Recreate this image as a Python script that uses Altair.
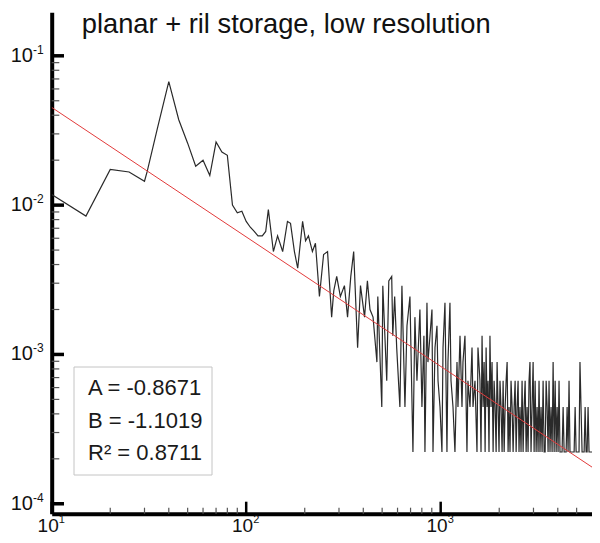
import math
import altair as alt
import pandas as pd

TITLE = "planar + ril storage, low resolution"
FONT = "Liberation Sans"

# fit parameters shown in the box (ln y = A ln x + B)
A = -0.8671
B = -1.1019
R2 = 0.8711

# histogram: counts per bin, normalised by the total number of cells
N_TOTAL = 4500

x_vals = [
    10, 15, 20, 25, 30, 31, 35, 40,
    45, 50, 55, 60, 65, 70, 75, 80,
    85, 90, 95, 100, 105, 110, 115, 121,
    126, 130, 138, 145, 154, 163, 169, 177,
    184, 195, 202, 209, 219, 227, 238, 250,
    262, 275, 282, 292, 305, 320, 332, 345,
    357, 374, 387, 406, 420,
    433, 449, 470, 475, 498, 504, 528, 541, 560, 567,
    580, 594, 617, 632, 655, 671, 695, 720, 737, 755,
    782, 801, 820, 830, 850, 860, 881, 902, 913, 935,
    957, 969, 992, 1015, 1028, 1052, 1077, 1090, 1116, 1130,
    1157, 1184, 1213, 1227, 1257, 1287, 1302, 1333, 1365, 1381,
    1415, 1449, 1466, 1501, 1537, 1555, 1592,
    1612, 1632, 1652, 1672, 1692, 1712, 1732, 1752, 1772, 1792,
    1815, 1837, 1860, 1882, 1905, 1928, 1950, 1973, 1995, 2018,
    2043, 2069, 2094, 2120, 2145, 2170, 2196, 2221, 2247, 2272,
    2300, 2329, 2357, 2386, 2414, 2443, 2471, 2500, 2528, 2557,
    2589, 2621, 2653, 2685, 2718, 2750, 2782, 2814, 2846, 2878,
    2914, 2950, 2987, 3023, 3059, 3095, 3131, 3168, 3204, 3240,
    3281, 3322, 3362, 3403, 3444, 3485, 3526, 3566, 3607, 3648,
    3694, 3740, 3785, 3831, 3877, 3923, 3969, 4014, 4060, 4106,
    4158, 4209, 4261, 4312, 4364, 4416, 4467, 4519, 4570, 4622,
    4680, 4738, 4796, 4854, 4912, 4970, 5028, 5086, 5144, 5202,
    5267, 5333, 5398, 5464, 5529, 5594, 5660, 5725, 5791, 5856,
    5930, 6003, 6077, 6150, 6224, 6298, 6371, 6445, 6518,
]

counts = [
    53, 38, 78, 75, 65, 76, 148, 302,
    168, 117, 82, 90, 71, 119, 102, 97,
    45, 40, 41, 35, 32, 30, 28, 28,
    30, 42, 22, 28, 22, 35, 34, 22,
    17, 35, 26, 28, 22, 25, 11, 21,
    22, 8, 12, 15, 11, 13, 8, 15,
    22, 5, 13, 8, 14,
    9, 8, 4, 11, 2, 13, 3, 14, 15, 6,
    11, 5, 2, 13, 2, 7, 11, 1, 8, 3,
    9, 2, 6, 1, 10, 4, 6, 9, 1, 5,
    7, 3, 2, 1, 5, 10, 1, 4, 10, 3,
    2, 1, 4, 2, 6, 2, 4, 6, 1, 3,
    2, 5, 2, 3, 1, 5, 3,
    1, 6, 2, 4, 1, 5, 2, 3, 1, 6,
    2, 4, 1, 3, 2, 1, 4, 2, 1, 3,
    2, 1, 3, 1, 2, 3, 4, 1, 2, 1,
    3, 2, 1, 2, 3, 1, 2, 3, 1, 2,
    1, 3, 1, 2, 3, 1, 2, 1, 3, 4,
    1, 2, 4, 1, 3, 1, 2, 1, 3, 1,
    2, 1, 3, 1, 1, 3, 2, 1, 3, 1,
    2, 1, 4, 1, 3, 1, 2, 1, 3, 1,
    1, 1, 2, 1, 1, 1, 2, 1, 3, 1,
    1, 1, 1, 1, 2, 1, 1, 1, 1, 4,
    2, 1, 1, 1, 2, 1, 1, 2, 1, 1,
    1, 1, 1, 1, 1, 1, 1, 4, 2,
]

X_DOMAIN = [10, 5998]
Y_DOMAIN = [8.58e-5, 0.1956]

x_major = [10, 100, 1000]
x_minor = [20, 30, 40, 50, 60, 70, 80, 90,
           200, 300, 400, 500, 600, 700, 800, 900,
           2000, 3000, 4000, 5000]
x_exp = ["1", "2", "3"]
y_major = [1e-4, 1e-3, 1e-2, 1e-1]
y_minor = [k * 10.0 ** e for e in (-4, -3, -2) for k in range(2, 10)]
y_exp = ["-4", "-3", "-2", "-1"]

W = 540.3
H = 501.4

xs = alt.Scale(type="log", domain=X_DOMAIN, nice=False)
ys = alt.Scale(type="log", domain=Y_DOMAIN, nice=False)
X_AXIS = alt.Axis(title=None, labels=False, ticks=False, grid=False,
                  domainColor="black", domainWidth=4)
Y_AXIS = alt.Axis(title=None, labels=False, ticks=False, grid=False,
                  domainColor="black", domainWidth=4)

df = pd.DataFrame({"x": x_vals, "y": [c / N_TOTAL for c in counts]})
fit_x = [X_DOMAIN[0], X_DOMAIN[1]]
df_fit = pd.DataFrame({"x": fit_x, "y": [math.exp(B) * v ** A for v in fit_x]})

data_line = alt.Chart(df).mark_line(color="#2a2a2a", strokeWidth=1.2, clip=True).encode(
    x=alt.X("x:Q", scale=xs, axis=X_AXIS),
    y=alt.Y("y:Q", scale=ys, axis=Y_AXIS),
)
fit_line = alt.Chart(df_fit).mark_line(color="#e23b3b", strokeWidth=1, clip=True).encode(
    x=alt.X("x:Q", scale=xs, axis=X_AXIS),
    y=alt.Y("y:Q", scale=ys, axis=Y_AXIS),
)

# inward ticks
yt_major = alt.Chart(pd.DataFrame({"y": y_major})).mark_rule(
    color="black", strokeWidth=3.5).encode(
    y=alt.Y("y:Q", scale=ys, axis=Y_AXIS), x=alt.value(0), x2=alt.value(12.3))
yt_minor = alt.Chart(pd.DataFrame({"y": y_minor})).mark_rule(
    color="#555555", strokeWidth=1.2).encode(
    y=alt.Y("y:Q", scale=ys, axis=Y_AXIS), x=alt.value(0), x2=alt.value(7.6))
xt_major = alt.Chart(pd.DataFrame({"x": x_major})).mark_rule(
    color="black", strokeWidth=2.5).encode(
    x=alt.X("x:Q", scale=xs, axis=X_AXIS), y=alt.value(H), y2=alt.value(H - 12))
xt_minor = alt.Chart(pd.DataFrame({"x": x_minor})).mark_rule(
    color="#555555", strokeWidth=1.2).encode(
    x=alt.X("x:Q", scale=xs, axis=X_AXIS), y=alt.value(H), y2=alt.value(H - 6))

# tick labels 10^n
df_yl = pd.DataFrame({"y": y_major, "base": ["10"] * 4, "exp": y_exp})
yl_base = alt.Chart(df_yl).mark_text(
    align="right", baseline="middle", fontSize=20, font=FONT, color="#111111").encode(
    y=alt.Y("y:Q", scale=ys, axis=Y_AXIS), x=alt.value(-18.7), text="base:N")
yl_exp = alt.Chart(df_yl).mark_text(
    align="left", baseline="middle", fontSize=12, font=FONT, color="#111111", dy=-6).encode(
    y=alt.Y("y:Q", scale=ys, axis=Y_AXIS), x=alt.value(-18.7), text="exp:N")

df_xl = pd.DataFrame({"x": x_major, "base": ["10"] * 3, "exp": x_exp})
xl_base = alt.Chart(df_xl).mark_text(
    align="right", baseline="middle", fontSize=19, font=FONT, color="#111111", dx=7).encode(
    x=alt.X("x:Q", scale=xs, axis=X_AXIS), y=alt.value(H + 12.5), text="base:N")
xl_exp = alt.Chart(df_xl).mark_text(
    align="left", baseline="middle", fontSize=11, font=FONT, color="#111111", dx=7).encode(
    x=alt.X("x:Q", scale=xs, axis=X_AXIS), y=alt.value(H + 6.5), text="exp:N")

# title
title = alt.Chart(pd.DataFrame({"t": [TITLE]})).mark_text(
    align="left", baseline="alphabetic", fontSize=27.3, font=FONT, color="#111111").encode(
    x=alt.value(30), y=alt.value(21), text="t:N")

# fit-result box
box = alt.Chart(pd.DataFrame({"k": [0]})).mark_rect(
    fill="white", stroke="#c4c4c4", strokeWidth=1).encode(
    x=alt.value(22.3), x2=alt.value(160.3), y=alt.value(354.7), y2=alt.value(462.7))

box_lines = [f"A = {A:.4f}", f"B = {B:.4f}", f"R\u00b2 = {R2:.4f}"]
box_texts = []
for i, s in enumerate(box_lines):
    box_texts.append(
        alt.Chart(pd.DataFrame({"t": [s]})).mark_text(
            align="left", baseline="alphabetic", fontSize=22, font=FONT,
            color="#1a1a1a").encode(
            x=alt.value(36.3), y=alt.value(382.7 + 32.5 * i), text="t:N")
    )

chart = alt.layer(
    data_line, fit_line, yt_minor, yt_major, xt_minor, xt_major,
    yl_base, yl_exp, xl_base, xl_exp, title, box, *box_texts,
).properties(
    width=W, height=H,
    autosize=alt.AutoSizeParams(type="none"),
    padding={"left": 43.7, "top": 4.3, "right": 0, "bottom": 21.3},
    background="white",
).configure_view(stroke=None)

chart.save("out.html", embed_options={"renderer": "svg", "actions": False})
